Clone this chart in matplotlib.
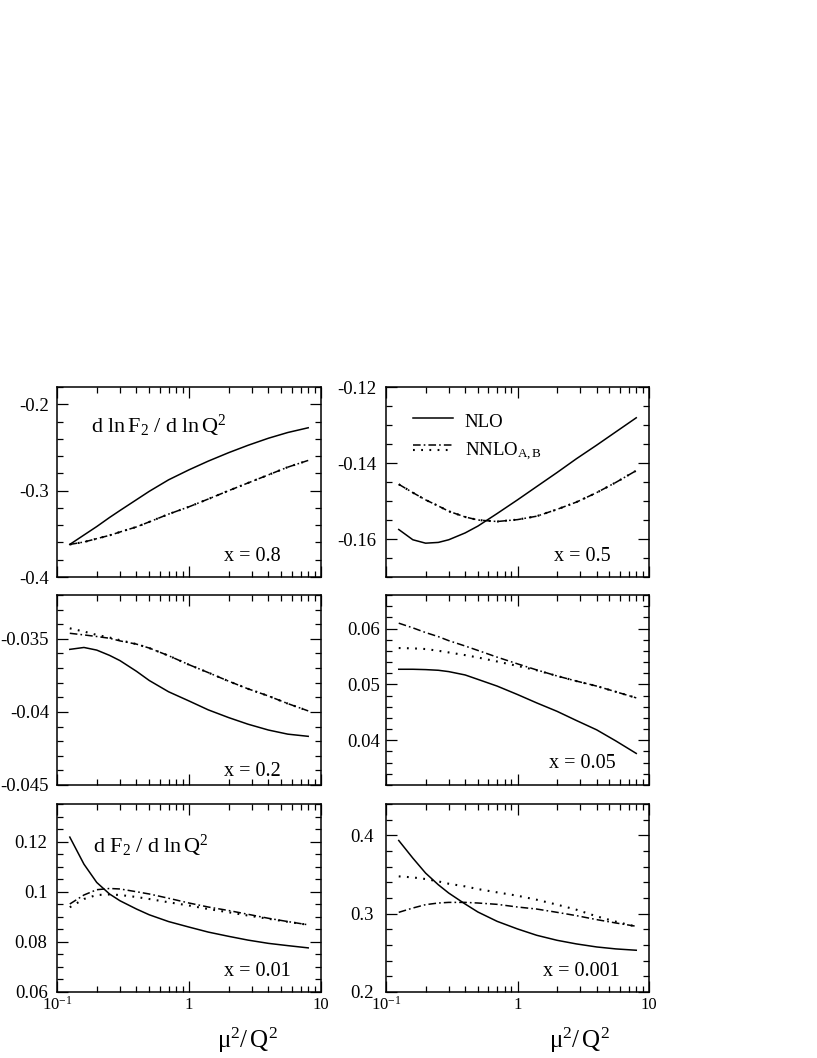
import numpy as np
import matplotlib
matplotlib.use("Agg")
import matplotlib.pyplot as plt
from matplotlib.ticker import MultipleLocator, FixedLocator, NullFormatter, FuncFormatter, LogLocator

plt.rcParams['font.family'] = ['Liberation Serif', 'DejaVu Serif']
plt.rcParams['mathtext.fontset'] = 'custom'
plt.rcParams['mathtext.rm'] = 'Liberation Serif'
plt.rcParams['mathtext.it'] = 'Liberation Serif:italic'
plt.rcParams['mathtext.bf'] = 'Liberation Serif:bold'
plt.rcParams['axes.unicode_minus'] = False
plt.rcParams['lines.scale_dashes'] = False

mu2 = [0.125, 0.16, 0.2, 0.25, 0.3, 0.4, 0.5, 0.7, 1.0, 1.4, 2.0, 2.8, 4.0, 5.6, 8.0]

# x = 0.8  (d ln F2 / d ln Q^2)
nlo_08 = [-0.3623, -0.3514, -0.3416, -0.3311, -0.3230, -0.3105, -0.3008, -0.2875,
          -0.2759, -0.2658, -0.2560, -0.2475, -0.2393, -0.2327, -0.2272]
nnloA_08 = [-0.3623, -0.3595, -0.3556, -0.3518, -0.3479, -0.3420, -0.3362, -0.3272,
            -0.3187, -0.3097, -0.3000, -0.2911, -0.2817, -0.2728, -0.2650]
nnloB_08 = [-0.3623, -0.3595, -0.3556, -0.3518, -0.3479, -0.3420, -0.3362, -0.3272,
            -0.3187, -0.3097, -0.3000, -0.2911, -0.2817, -0.2728, -0.2650]

# x = 0.5
nlo_05 = [-0.1575, -0.1602, -0.1611, -0.1609, -0.1602, -0.1584, -0.1566, -0.1533,
          -0.1497, -0.1462, -0.1425, -0.1389, -0.1353, -0.1318, -0.1281]
nnloA_05 = [-0.1456, -0.1478, -0.1497, -0.1513, -0.1527, -0.1542, -0.1550, -0.1554,
            -0.1549, -0.1540, -0.1522, -0.1503, -0.1478, -0.1451, -0.1420]
nnloB_05 = [-0.1456, -0.1478, -0.1497, -0.1513, -0.1527, -0.1542, -0.1550, -0.1554,
            -0.1549, -0.1540, -0.1522, -0.1503, -0.1478, -0.1451, -0.1420]

# x = 0.2
nlo_02 = [-0.03572, -0.03559, -0.03577, -0.03613, -0.03649, -0.03722, -0.03785, -0.03862,
          -0.03925, -0.03986, -0.04039, -0.04084, -0.04124, -0.04152, -0.04167]
nnloA_02 = [-0.03462, -0.03473, -0.03484, -0.03496, -0.03514, -0.03536, -0.03563, -0.03615,
            -0.03677, -0.03731, -0.03790, -0.03842, -0.03891, -0.03943, -0.03993]
nnloB_02 = [-0.03428, -0.03450, -0.03473, -0.03491, -0.03509, -0.03536, -0.03563, -0.03615,
            -0.03677, -0.03731, -0.03790, -0.03842, -0.03891, -0.03943, -0.03993]

# x = 0.05
nlo_005 = [0.05271, 0.05271, 0.05265, 0.05253, 0.05229, 0.05169, 0.05090, 0.04970,
           0.04819, 0.04669, 0.04518, 0.04355, 0.04187, 0.03988, 0.03765]
nnloA_005 = [0.06096, 0.06012, 0.05928, 0.05855, 0.05783, 0.05687, 0.05608, 0.05488,
             0.05368, 0.05259, 0.05151, 0.05060, 0.04970, 0.04868, 0.04759]
nnloB_005 = [0.05651, 0.05645, 0.05633, 0.05602, 0.05572, 0.05524, 0.05482, 0.05410,
             0.05331, 0.05253, 0.05151, 0.05060, 0.04970, 0.04868, 0.04759]

# x = 0.01  (d F2 / d ln Q^2)
nlo_001 = [0.1218, 0.1110, 0.1037, 0.0991, 0.0964, 0.0931, 0.0908, 0.0881,
           0.0859, 0.0839, 0.0822, 0.0807, 0.0794, 0.0785, 0.0776]
nnloA_001 = [0.0951, 0.0987, 0.1008, 0.1013, 0.1011, 0.1000, 0.0991, 0.0974,
             0.0955, 0.0939, 0.0925, 0.0910, 0.0894, 0.0881, 0.0868]
nnloB_001 = [0.0938, 0.0971, 0.0987, 0.0989, 0.0987, 0.0979, 0.0971, 0.0958,
             0.0945, 0.0931, 0.0918, 0.0905, 0.0892, 0.0880, 0.0868]

# x = 0.001
nlo_0001 = [0.3934, 0.3709, 0.3518, 0.3369, 0.3263, 0.3123, 0.3021, 0.2902,
            0.2805, 0.2724, 0.2660, 0.2614, 0.2575, 0.2550, 0.2533]
nnloA_0001 = [0.3017, 0.3072, 0.3115, 0.3136, 0.3144, 0.3144, 0.3136, 0.3119,
              0.3085, 0.3059, 0.3017, 0.2975, 0.2924, 0.2881, 0.2839]
nnloB_0001 = [0.3476, 0.3463, 0.3442, 0.3412, 0.3382, 0.3348, 0.3314, 0.3272,
              0.3229, 0.3178, 0.3115, 0.3051, 0.2966, 0.2898, 0.2834]

panels = [
    # label, nlo, nnloA, nnloB, ylim, major step, minor step
    ('x = 0.8', nlo_08, nnloA_08, nnloB_08, (-0.4, -0.18), 0.1, 0.02),
    ('x = 0.5', nlo_05, nnloA_05, nnloB_05, (-0.17, -0.12), 0.02, 0.005),
    ('x = 0.2', nlo_02, nnloA_02, nnloB_02, (-0.045, -0.032), 0.005, 0.001),
    ('x = 0.05', nlo_005, nnloA_005, nnloB_005, (0.032, 0.066), 0.01, 0.002),
    ('x = 0.01', nlo_001, nnloA_001, nnloB_001, (0.06, 0.135), 0.02, 0.005),
    ('x = 0.001', nlo_0001, nnloA_0001, nnloB_0001, (0.2, 0.44), 0.1, 0.02),
]
label_pos = [(0.633, 0.086), (0.639, 0.086), (0.633, 0.049),
             (0.620, 0.091), (0.633, 0.087), (0.597, 0.087)]
ypads = [5.8, 7.2, 5.8, 4.5, 6.8, 9.0]

W, H = 817.0, 1058.0
lefts = [57, 386]
widths = [264, 263]
tops = [387, 595, 804]
bottoms = [577, 785, 992]

dashdot = (0, (5.5, 2.2, 1.2, 2.2))
dotted = (0, (1.3, 4.6))
lw = 1.1

fig = plt.figure(figsize=(8.17, 10.58), dpi=100)
axes = []
for i, (lab, nlo, na, nb, ylim, maj, mnr) in enumerate(panels):
    r, c = divmod(i, 2)
    ax = fig.add_axes([lefts[c] / W, 1 - bottoms[r] / H,
                       widths[c] / W, (bottoms[r] - tops[r]) / H])
    axes.append(ax)
    ax.plot(mu2, nlo, '-', color='black', lw=lw)
    ax.plot(mu2, na, color='black', lw=lw, linestyle=dashdot)
    ax.plot(mu2, nb, color='black', lw=1.5, linestyle=dotted)
    ax.set_xscale('log')
    ax.set_xlim(0.1, 10)
    ax.set_ylim(*ylim)
    ax.xaxis.set_major_locator(FixedLocator([0.1, 1, 10]))
    ax.xaxis.set_minor_locator(LogLocator(base=10, subs=np.arange(2, 10)))
    ax.xaxis.set_minor_formatter(NullFormatter())
    ax.yaxis.set_major_locator(MultipleLocator(maj))
    ax.yaxis.set_minor_locator(MultipleLocator(mnr))
    ax.yaxis.set_major_formatter(FuncFormatter(lambda v, p: '%g' % round(v, 6)))
    ax.tick_params(which='both', direction='in', top=True, right=True, width=0.9)
    ax.tick_params(which='major', length=8)
    ax.tick_params(which='minor', length=4.5)
    ax.tick_params(axis='y', pad=ypads[i], labelsize=13.5)
    for s in ax.spines.values():
        s.set_linewidth(1.1)
    if r == 2:
        ax.set_xticks([0.1, 1, 10])
        ax.set_xticklabels([r'$\mathrm{10^{-1}}$', '1', '10'])
        ax.tick_params(axis='x', pad=12.5, labelsize=12)
        for t in ax.get_xticklabels():
            t.set_verticalalignment('baseline')
        ax.text(0.72 if c == 0 else 0.734, -0.298, r'$\mathrm{μ^2/\,Q^2}$',
                transform=ax.transAxes, ha='center', va='baseline', fontsize=18)
    else:
        ax.set_xticklabels([])
    lx, ly = label_pos[i]
    ax.text(lx, ly, lab, transform=ax.transAxes, ha='left', va='baseline', fontsize=14.5)

axes[0].text(0.128, 0.758, r'$\mathrm{d\ ln\,F_2\ /\ d\ ln\,Q^2}$',
             transform=axes[0].transAxes, ha='left', va='baseline', fontsize=16)
axes[4].text(0.135, 0.739, r'$\mathrm{d\ F_2\ /\ d\ ln\,Q^2}$',
             transform=axes[4].transAxes, ha='left', va='baseline', fontsize=16)

# legend drawn by hand in the x = 0.5 panel
ax = axes[1]
ax.plot([0.1015, 0.2536], [0.835, 0.835], '-', color='black', lw=lw, transform=ax.transAxes)
ax.plot([0.1015, 0.2536], [0.695, 0.695], color='black', lw=lw, linestyle=dashdot, transform=ax.transAxes)
ax.plot([0.1015, 0.2536], [0.668, 0.668], color='black', lw=1.5, linestyle=dotted, transform=ax.transAxes)
ax.text(0.30, 0.788, 'NLO', transform=ax.transAxes, ha='left', va='baseline', fontsize=13.5)
ax.text(0.30, 0.637, r'$\mathrm{NNLO_{A,B}}$', transform=ax.transAxes, ha='left', va='baseline', fontsize=13.5)

fig.savefig('out.png', dpi=100)
